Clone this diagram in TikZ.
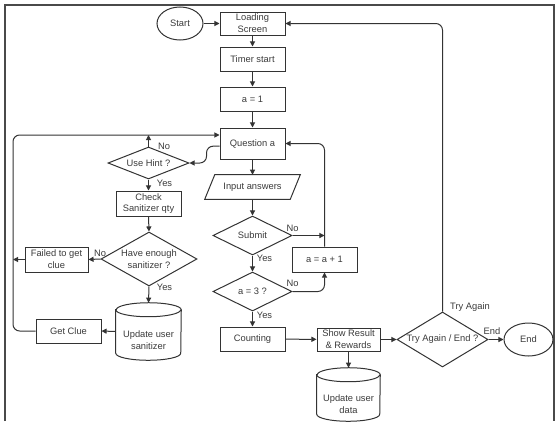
\documentclass[tikz,border=0pt]{standalone}
\usepackage{fontspec}
\setmainfont{Liberation Sans}
\usetikzlibrary{shapes.geometric,arrows.meta}
\definecolor{lncol}{HTML}{333333}
\definecolor{txcol}{HTML}{3A3A3A}
\definecolor{frcol}{HTML}{4A4A4A}
\begin{document}
\begin{tikzpicture}[x=0.75pt,y=-0.75pt,
  every node/.style={font=\fontsize{7}{8.8}\selectfont, text=txcol, align=center},
  lnst/.style={draw=lncol, line width=0.75pt},
  box/.style 2 args={rectangle, lnst, inner sep=0pt, minimum width=#1*0.75pt, minimum height=#2*0.75pt},
  dia/.style 2 args={diamond, lnst, inner sep=0pt, minimum width=#1*0.75pt, minimum height=#2*0.75pt},
  ell/.style 2 args={ellipse, lnst, inner sep=0pt, minimum width=#1*0.75pt, minimum height=#2*0.75pt},
  ghost/.style 2 args={rectangle, inner sep=0pt, minimum width=#1*0.75pt, minimum height=#2*0.75pt},
  arr/.style={draw=lncol, line width=0.75pt, -{Triangle[length=3.8pt,width=3.8pt]}},
  lbl/.style={inner sep=0pt}]
\useasboundingbox (0,0) rectangle (559,421);
% frame
\draw[draw=frcol, line width=1.1pt] (5,421) -- (5,5) -- (554,5) -- (554,421);

% main column
\node[ell={46}{33}] (st) at (180,23.5) {Start};
\node[box={65}{23}] (ls) at (252.5,23.5) {Loading\\Screen};
\node[box={65}{24}] (ts) at (252.5,59) {Timer start};
\node[box={65}{24}] (a1) at (252.5,99) {a = 1};
\node[box={65}{31}] (qa) at (252.5,143.5) {Question a};
\node[ghost={95}{24}] (inp) at (252.5,187) {Input answers};
\draw[lnst] ([xshift=7.5pt]inp.north west) -- (inp.north east) -- ([xshift=-7.5pt]inp.south east) -- (inp.south west) -- cycle;
\node[dia={79}{39}, label={center:Submit}] (sub) at (252.5,235.5) {};
\node[dia={79}{39}, label={center:a = 3 ?}] (a3) at (252.5,291.5) {};
\node[box={65}{24}] (cnt) at (252.5,339) {Counting};
\node[box={65}{25}] (aa1) at (324.5,259.5) {a = a + 1};
\node[box={63}{23}] (sr) at (348.5,339.5) {Show Result\\\& Rewards};
\node[ghost={63}{53}, label={[yshift=-7.5pt]center:Update user\\data}] (ud) at (348.5,394.5) {};
\draw[lnst] ([yshift=-5.25pt]ud.north west) -- ([yshift=5.25pt]ud.south west)
  arc[start angle=180, end angle=360, x radius=23.625pt, y radius=5.25pt]
  -- ([yshift=-5.25pt]ud.north east)
  arc[start angle=0, end angle=180, x radius=23.625pt, y radius=5.25pt] -- cycle;
\draw[lnst] ([yshift=-5.25pt]ud.north west) arc[start angle=180, end angle=360, x radius=23.625pt, y radius=5.25pt];
\node[dia={91}{55}, label={center:Try Again / End ?}] (tae) at (442.5,339.5) {};
\node[ell={49}{33}] (end) at (528.5,339.5) {End};

% left column
\node[dia={81}{32}, label={center:Use Hint ?}] (uh) at (148.5,163) {};
\node[box={65}{25}] (cs) at (148.5,203.5) {Check\\Sanitizer qty};
\node[dia={96}{54}, label={center:Have enough\\sanitizer ?}] (he) at (149,259) {};
\node[box={63}{25}] (fl) at (56.5,259.5) {Failed to get\\clue};
\node[ghost={65}{57}, label={[yshift=-6.75pt]center:Update user\\sanitizer}] (us) at (148.5,331.5) {};
\draw[lnst] ([yshift=-5.25pt]us.north west) -- ([yshift=5.25pt]us.south west)
  arc[start angle=180, end angle=360, x radius=24.375pt, y radius=5.25pt]
  -- ([yshift=-5.25pt]us.north east)
  arc[start angle=0, end angle=180, x radius=24.375pt, y radius=5.25pt] -- cycle;
\draw[lnst] ([yshift=-5.25pt]us.north west) arc[start angle=180, end angle=360, x radius=24.375pt, y radius=5.25pt];
\node[box={65}{24}] (gc) at (68.5,331) {Get Clue};
\coordinate (lp) at (13,135);

% connectors main
\draw[arr] (st) -- (ls);
\draw[arr] (ls) -- (ts);
\draw[arr] (ts) -- (a1);
\draw[arr] (a1) -- (qa);
\draw[arr] (qa.south) -- (inp.north);
\draw[arr] (inp.south) -- (sub.north);
\draw[arr] (sub.south) -- (a3.north);
\draw[arr] (a3.south) -- (cnt.north);
\draw[arr] (sub.east) -- (sub.east -| aa1.north);
\draw[arr, rounded corners=5pt] (a3.east) -| (aa1.south);
\draw[arr, rounded corners=5pt] (aa1.north) |- (qa.east);
\draw[arr] (cnt) -- (sr);
\draw[arr] (sr.south) -- (ud.north);
\draw[arr] (sr.east) -- (tae.west);
\draw[arr] (tae.east) -- (end.west);
\draw[arr, rounded corners=5pt] (tae.north) |- (ls.east);

% connectors left
\draw[arr, rounded corners=5pt] ([yshift=-2pt]qa.west) -- ++(-13,0) |- (uh.east);
\draw[arr] (uh.north) -- (uh.north |- lp);
\draw[arr] (uh.south) -- (cs.north);
\draw[arr] (cs.south) -- (he.north);
\draw[arr] (he.west) -- (fl.east);
\draw[arr] (fl.west) -- (fl.west -| lp);
\draw[arr] (he.south) -- (us.north);
\draw[arr] (us.west) -- (gc.east);
\draw[arr, rounded corners=5pt] (gc.west) -| (lp) -- (qa.west |- lp);

% labels
\node[lbl] (l1) at (164,146) {No};
\node[lbl] (l2) at (164.5,183) {Yes};
\node[lbl] (l3) at (100,253) {No};
\node[lbl] (l4) at (164.5,287) {Yes};
\node[lbl] (l5) at (292.5,228) {No};
\node[lbl] (l6) at (264.5,258) {Yes};
\node[lbl] (l7) at (292.5,283) {No};
\node[lbl] (l8) at (264.5,315) {Yes};
\node[lbl] (l9) at (470,307) {Try Again};
\node[lbl] (l10) at (492,331) {End};
\end{tikzpicture}
\end{document}
